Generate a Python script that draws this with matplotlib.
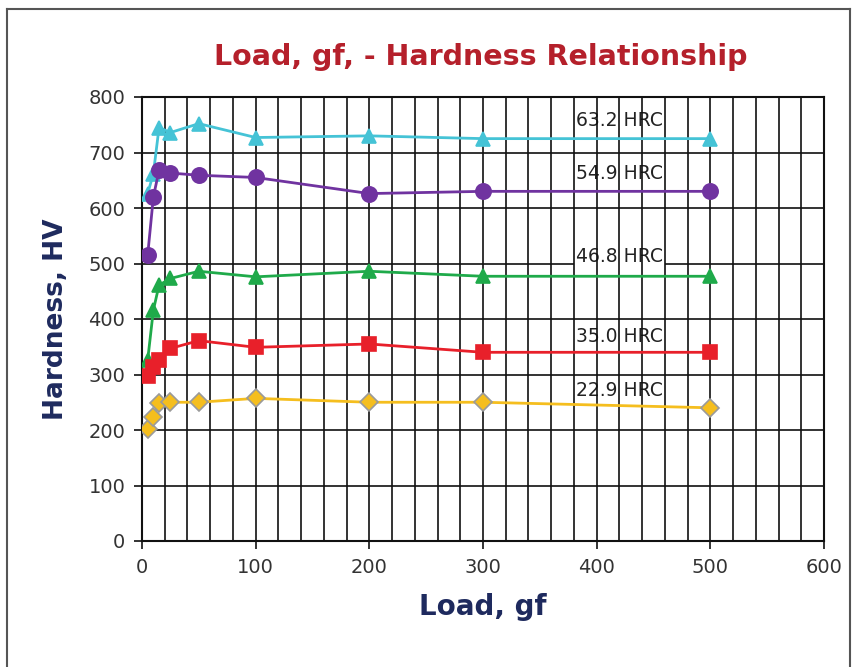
import matplotlib
matplotlib.use("Agg")
import matplotlib.pyplot as plt
from matplotlib.lines import Line2D

loads = [5, 10, 15, 25, 50, 100, 200, 300, 500]
hv_632 = [626, 662, 745, 736, 752, 727, 730, 725, 725]
hv_549 = [515, 620, 668, 663, 659, 655, 626, 630, 630]
hv_468 = [326, 416, 461, 473, 486, 476, 486, 477, 477]
hv_350 = [297, 314, 326, 347, 361, 349, 355, 340, 340]
hv_229 = [201, 224, 248, 250, 250, 257, 250, 250, 240]
labels = ["63.2 HRC", "54.9 HRC", "46.8 HRC", "35.0 HRC", "22.9 HRC"]
label_y = [757, 663, 512, 368, 272]
label_x = 420

fig = plt.figure(figsize=(8.54, 6.67), dpi=100)
ax = fig.add_axes([142/854, 1-541/667, (824-142)/854, (541-97)/667])

# outer frame
fig.add_artist(Line2D([7/854, 7/854], [0, 1-9/667], transform=fig.transFigure, color="#555555", lw=1.5))
fig.add_artist(Line2D([7/854, 850/854], [1-9/667, 1-9/667], transform=fig.transFigure, color="#555555", lw=1.5))
fig.add_artist(Line2D([850/854, 850/854], [0, 1-9/667], transform=fig.transFigure, color="#555555", lw=1.5))

ax.set_xlim(0, 600)
ax.set_ylim(0, 800)
ax.set_xticks(range(0, 601, 100))
ax.set_yticks(range(0, 801, 100))
ax.grid(True, which="major", axis="y", color="#111111", lw=1.2, zorder=0.5)
ax.set_axisbelow(True)
# vertical grid every 20 gf, drawn above the label boxes
ax.vlines(range(20, 600, 20), 0, 800, colors="#111111", lw=1.2, zorder=1.5)
ax.tick_params(which="major", length=6, width=1.2, color="#111111", labelsize=14, labelcolor="#333333", pad=6)
for s in ax.spines.values():
    s.set_color("#111111"); s.set_linewidth(1.5)

series = [
    (hv_632, "#45C3D6", "^", 10, "#45C3D6"),
    (hv_549, "#7033A0", "o", 11, "#7033A0"),
    (hv_468, "#1FAA4A", "^", 10, "#1FAA4A"),
    (hv_350, "#E8202A", "s", 10, "#E8202A"),
    (hv_229, "#F5BE1E", "D", 9, "#9A9A9A"),
]
for ys, c, m, ms, ec in series:
    ax.plot(loads, ys, color=c, lw=2, marker=m, ms=ms, mfc=c, mec=ec, mew=1.2, zorder=3)

for lab, y in zip(labels, label_y):
    t = ax.text(label_x, y, lab, ha="center", va="center", fontsize=13.5, color="#222222",
                bbox=dict(facecolor="white", edgecolor="none", pad=1.5), zorder=1)

fig.text(481/854, 1-57/667, "Load, gf, - Hardness Relationship", ha="center", va="center",
         fontsize=20.5, fontweight="bold", color="#B5202B")
ax.set_xlabel("Load, gf", fontsize=20, fontweight="bold", color="#1E2A5E", labelpad=12)
ax.set_ylabel("Hardness, HV", fontsize=19, fontweight="bold", color="#1E2A5E", labelpad=14)

fig.savefig("out.png", dpi=100)
